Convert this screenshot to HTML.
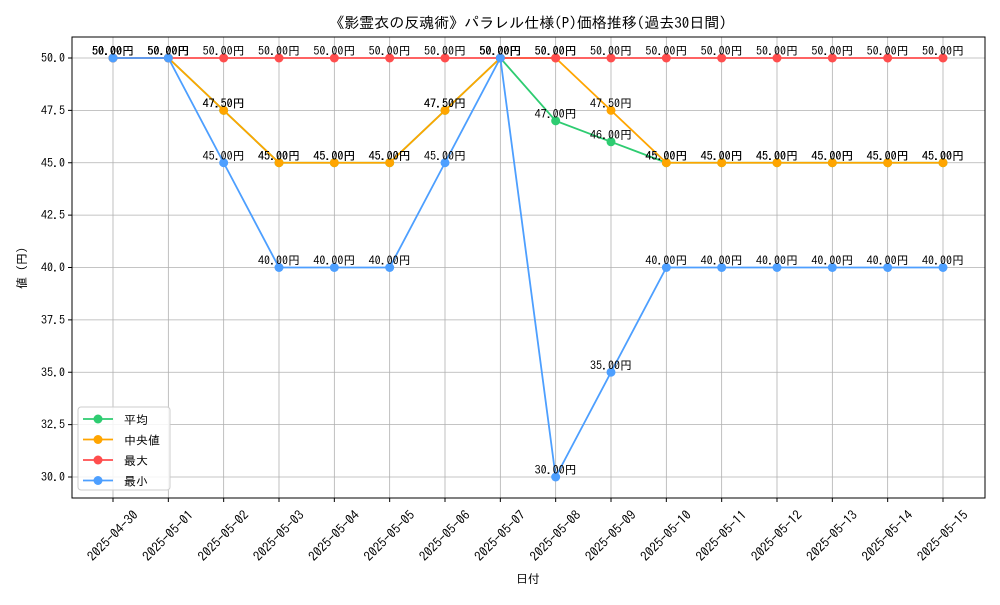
<!DOCTYPE html>
<html><head><meta charset="utf-8"><style>
body{margin:0;background:#fff}
svg{font-family:"IPAGothic","Liberation Sans","Noto Sans CJK JP",sans-serif}
</style></head><body>
<svg id="c" width="1000" height="600" xmlns="http://www.w3.org/2000/svg"></svg>
<script>
const categories=["2025-04-30","2025-05-01","2025-05-02","2025-05-03","2025-05-04","2025-05-05","2025-05-06","2025-05-07","2025-05-08","2025-05-09","2025-05-10","2025-05-11","2025-05-12","2025-05-13","2025-05-14","2025-05-15"];
const avgValues=[50,50,47.5,45,45,45,47.5,50,47,46,45,45,45,45,45,45];
const medianValues=[50,50,47.5,45,45,45,47.5,50,50,47.5,45,45,45,45,45,45];
const maxValues=[50,50,50,50,50,50,50,50,50,50,50,50,50,50,50,50];
const minValues=[50,50,45,40,40,40,45,50,30,35,40,40,40,40,40,40];
const yTicks=[30,32.5,35,37.5,40,42.5,45,47.5,50];
const seriesNames=["平均","中央値","最大","最小"];
const colors=["#2ecc71","#ffa500","#ff4d4d","#4d9fff"];

const NS="http://www.w3.org/2000/svg";
const svg=document.getElementById("c");
const L=72,R=985,T=37,B=498;
const x=i=>113+i*(943-113)/(categories.length-1);
const y=v=>477-(v-30)*(477-58)/20;
function mk(tag,attrs,parent){const e=document.createElementNS(NS,tag);for(const k in attrs)e.setAttribute(k,attrs[k]);(parent||svg).appendChild(e);return e;}

const grid=mk("g",{});


categories.forEach((c,i)=>{
  mk("line",{x1:x(i),x2:x(i),y1:T,y2:B,stroke:"#b0b0b0","stroke-width":0.8},grid);
  mk("line",{x1:x(i),x2:x(i),y1:B,y2:B+4,stroke:"#000"},grid);
  const cy=B+38;
  const t=mk("text",{x:x(i),y:cy+4,"font-size":13,"text-anchor":"middle",transform:`rotate(-45 ${x(i)} ${cy})`});
  t.textContent=c;
  
  
});
yTicks.forEach(v=>{
  mk("line",{x1:L,x2:R,y1:y(v),y2:y(v),stroke:"#b0b0b0","stroke-width":0.8},grid);
  mk("line",{x1:L-4,x2:L,y1:y(v),y2:y(v),stroke:"#000"},grid);
  const t=mk("text",{x:L-7,y:y(v)+4,"font-size":12,"text-anchor":"end"});
  t.textContent=v.toFixed(1);
  
  
});

const all=[avgValues,medianValues,maxValues,minValues];
all.forEach((vals,s)=>{
  const g=mk("g",{});
  
  
  mk("polyline",{points:vals.map((v,i)=>x(i)+","+y(v)).join(" "),fill:"none",stroke:colors[s],"stroke-width":1.8},g);
  vals.forEach((v,i)=>{
    const p=mk("circle",{cx:x(i),cy:y(v),r:4.5,fill:colors[s]},g);
    
    
  });
});
all.forEach((vals,s)=>{
  vals.forEach((v,i)=>{
    const t=mk("text",{x:x(i),y:y(v)-3,"font-size":12,"text-anchor":"middle",fill:"#000"});
    t.textContent=v.toFixed(2)+"円";
    
    
  });
});

mk("rect",{x:L,y:T,width:R-L,height:B-T,fill:"none",stroke:"#000","stroke-width":1});

const title=mk("text",{x:528,y:28,"font-size":15,"text-anchor":"middle"});
title.textContent="《影霊衣の反魂術》パラレル仕様(P)価格推移(過去30日間)";


const xt=mk("text",{x:528,y:583,"font-size":12,"text-anchor":"middle"});
xt.textContent="日付";


const yt=mk("text",{x:26,y:268,"font-size":12,"text-anchor":"middle",transform:"rotate(-90 26 268)"});
yt.textContent="値 (円)";



const lg=mk("g",{});


mk("rect",{x:78,y:407,width:92,height:83,rx:3,fill:"#fff","fill-opacity":0.85,stroke:"#ccc"},lg);
seriesNames.forEach((n,s)=>{
  const yy=419+s*20.5;
  const e=mk("g",{},lg);
  
  
  mk("line",{x1:83,x2:113,y1:yy,y2:yy,stroke:colors[s],"stroke-width":1.8},e);
  mk("circle",{cx:98,cy:yy,r:4.5,fill:colors[s]},e);
  const t=mk("text",{x:124,y:yy+5,"font-size":12},e);
  t.textContent=n;
});
</script>
</body></html>
